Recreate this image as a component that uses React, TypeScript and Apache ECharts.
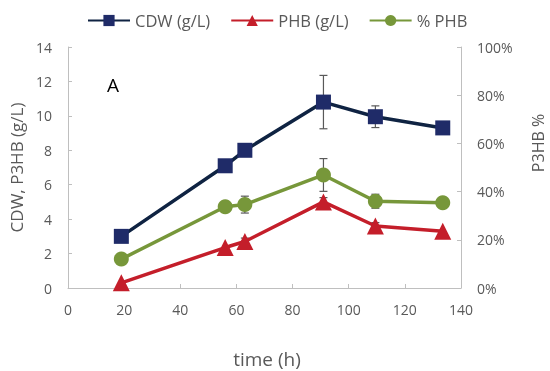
import React, { useEffect, useRef } from "react";
import * as echarts from "echarts";

const cdwTime = [19, 56, 63, 91, 109.5, 133.5];
const cdwValues = [3.0, 7.1, 8.0, 10.8, 9.95, 9.3];
const phbValues = [0.3, 2.35, 2.7, 5.0, 3.6, 3.3];
const pctValues = [12.0, 33.7, 34.6, 46.9, 36.0, 35.4];

const cdwErrors = [0, 0, 0, 1.55, 0.63, 0];
const phbErrors = [0, 0, 0.2, 0.25, 0.2, 0];
const pctErrors = [0, 0, 3.5, 6.8, 2.9, 0];

const FONT = "Open Sans";

function pairs(xs: number[], ys: number[]) {
  return xs.map((x, i) => [x, ys[i]]);
}
function errData(xs: number[], ys: number[], es: number[]) {
  return xs
    .map((x, i) => [x, ys[i] - es[i], ys[i] + es[i]])
    .filter((_, i) => es[i] > 0);
}

const errRender = (params: any, api: any) => {
  const x = api.value(0);
  const lo = api.value(1);
  const hi = api.value(2);
  const p1 = api.coord([x, hi]);
  const p2 = api.coord([x, lo]);
  const w = 4;
  const style = { stroke: "#595959", lineWidth: 1.2 };
  return {
    type: "group",
    children: [
      { type: "line", shape: { x1: p1[0], y1: p1[1], x2: p2[0], y2: p2[1] }, style },
      { type: "line", shape: { x1: p1[0] - w, y1: p1[1], x2: p1[0] + w, y2: p1[1] }, style },
      { type: "line", shape: { x1: p2[0] - w, y1: p2[1], x2: p2[0] + w, y2: p2[1] }, style },
    ],
  };
};

export default function App() {
  const ref = useRef<HTMLDivElement>(null);
  useEffect(() => {
    if (!ref.current) return;
    const chart = echarts.init(ref.current, null, { renderer: "svg" });
    const axisLine = { show: true, lineStyle: { color: "#bfbfbf", width: 1 } };
    const axisTick = { show: true, inside: true, length: 4, lineStyle: { color: "#bfbfbf" } };
    const axisLabel = { color: "#595959", fontSize: 14, fontFamily: FONT };
    chart.setOption({
      animation: false,
      textStyle: { fontFamily: FONT },
      legend: {
        top: 7,
        left: 82,
        itemWidth: 42,
        itemHeight: 14,
        itemGap: 20,
        textStyle: { color: "#595959", fontSize: 16.5, fontFamily: FONT },
        data: ["CDW (g/L)", "PHB (g/L)", "% PHB"],
      },
      grid: { left: 68, right: 89, top: 47, bottom: 83 },
      xAxis: {
        type: "value",
        min: 0,
        max: 140,
        interval: 20,
        axisLine,
        axisTick,
        axisLabel: { ...axisLabel, margin: 14 },
        splitLine: { show: false },
      },
      yAxis: [
        {
          type: "value",
          min: 0,
          max: 14,
          interval: 2,
          name: "CDW, P3HB (g/L)",
          nameLocation: "middle",
          nameGap: 34,
          nameTextStyle: { color: "#595959", fontSize: 17, fontFamily: FONT },
          axisLine,
          axisTick,
          axisLabel: { ...axisLabel, margin: 16 },
          splitLine: { show: false },
        },
        {
          type: "value",
          min: 0,
          max: 100,
          interval: 20,
          position: "right",
          axisLine,
          axisTick,
          axisLabel: { ...axisLabel, margin: 16, formatter: "{value}%" },
          splitLine: { show: false },
        },
      ],
      graphic: [
        {
          type: "text",
          left: 107,
          top: 75,
          style: { text: "A", fontSize: 19, fill: "#000", fontFamily: FONT },
        },
        {
          type: "text",
          x: 538,
          y: 143,
          rotation: Math.PI / 2,
          style: {
            text: "P3HB %",
            fontSize: 16,
            fill: "#595959",
            fontFamily: FONT,
            align: "center",
            verticalAlign: "middle",
          },
        },
        {
          type: "text",
          x: 267,
          y: 359,
          style: {
            text: "time (h)",
            fontSize: 19,
            fill: "#595959",
            fontFamily: FONT,
            align: "center",
            verticalAlign: "middle",
          },
        },
      ],
      series: [
        {
          type: "custom",
          name: "errCDW",
          yAxisIndex: 0,
          z: 1,
          renderItem: errRender,
          data: errData(cdwTime, cdwValues, cdwErrors),
          encode: { x: 0, y: [1, 2] },
        },
        {
          type: "custom",
          name: "errPHB",
          yAxisIndex: 0,
          z: 1,
          renderItem: errRender,
          data: errData(cdwTime, phbValues, phbErrors),
          encode: { x: 0, y: [1, 2] },
        },
        {
          type: "custom",
          name: "errPct",
          yAxisIndex: 1,
          z: 1,
          renderItem: errRender,
          data: errData(cdwTime, pctValues, pctErrors),
          encode: { x: 0, y: [1, 2] },
        },
        {
          type: "line",
          name: "CDW (g/L)",
          yAxisIndex: 0,
          z: 3,
          data: pairs(cdwTime, cdwValues),
          symbol: "rect",
          symbolSize: 15,
          lineStyle: { color: "#0f2342", width: 3.5 },
          itemStyle: { color: "#1f2b68" },
        },
        {
          type: "line",
          name: "PHB (g/L)",
          yAxisIndex: 0,
          z: 3,
          data: pairs(cdwTime, phbValues),
          symbol: "triangle",
          symbolSize: 17,
          lineStyle: { color: "#c41e2a", width: 3.5 },
          itemStyle: { color: "#c41e2a" },
        },
        {
          type: "line",
          name: "% PHB",
          yAxisIndex: 1,
          z: 3,
          data: pairs(cdwTime, pctValues),
          symbol: "circle",
          symbolSize: 15,
          lineStyle: { color: "#77973a", width: 3.5 },
          itemStyle: { color: "#77973a" },
        },
      ],
    });
    return () => chart.dispose();
  }, []);
  return (
    <div
      ref={ref}
      style={{ position: "fixed", left: 0, top: 0, width: 550, height: 371 }}
    />
  );
}
